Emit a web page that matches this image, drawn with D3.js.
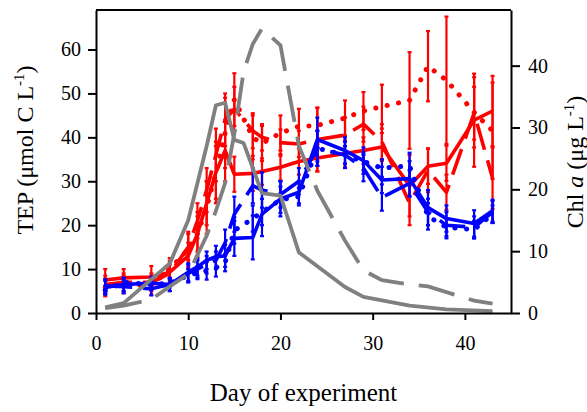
<!DOCTYPE html>
<html>
<head>
<meta charset="utf-8">
<script src="https://cdnjs.cloudflare.com/ajax/libs/d3/7.8.5/d3.min.js"></script>
<style>
  body { margin: 0; background: #fff; }
  svg text { font-family: "Liberation Serif", "Times New Roman", Times, "DejaVu Serif", serif; }
</style>
</head>
<body>
<div id="chart"></div>
<script>
// sampling days for TEP series (left axis)
var days = [1, 3, 6, 8, 10, 11, 12, 13, 14, 15, 17, 18, 20, 22, 24, 27, 29, 31, 34, 36, 38, 41, 43];

var redSolid  = [7.5, 8.0, 8.2, 9.3, 13, 18, 25, 32, 37, 31.6, 31.8, 32.2, 33.2, 34.5, 35.3, 36.3, 37, 37.8, 29, 33.4, 34.1, 43.9, 46];
var redSolidErr = [2.5, 2, 2.5, 2.5, 3, 4, 5, 6, 7, 4, 4, 3, 3, 3, 3, 3, 3, 3.2, 7, 4, 4, 10.6, 8];
var redDot    = [5.8, 6.5, 6.2, 10, 14.5, 18, 24, 32, 41, 48.6, 40, 38.6, 41, 42.5, 42.7, 44.4, 46, 47, 48.4, 56.2, 53, 45.7, 41.5];
var redDotErr = [2, 2, 2, 2.5, 4, 5, 6, 7, 8, 6, 5, 4, 4, 4, 4, 4, 4.3, 5, 11, 8, 14.5, 8, 11];
var redDash   = [6.5, 7, 7, 9, 15, 21, 28, 36, 44, 46.5, 41.5, 40, 38.8, 38.5, 39.5, 40.5, 43, 39, 25, 32.5, 27.5, 45.5, 30.7];
var redDashErr = [2, 2, 2, 2, 3, 4, 5, 6, 6, 5, 4, 3, 3, 3, 7.3, 4, 4, 4, 5, 5, 4, 6, 7];

var blueSolid = [5.8, 6.5, 6.8, 6.5, 9.3, 10.5, 12, 12.8, 13, 17, 17.2, 22.5, 26, 27.5, 39.5, 37, 34.7, 30.3, 30.6, 24, 21.5, 20.4, 23.3];
var blueSolidErr = [1.5, 1.5, 1.5, 1.5, 2, 2, 2, 2.5, 2.5, 4, 5, 5, 4, 2.5, 5, 3, 3, 3, 4, 4, 3, 3, 2.5];
var blueDot   = [5.2, 7, 6.5, 6.8, 8.5, 9.2, 9.6, 10.3, 11.5, 18.8, 21.5, 23, 25.8, 26.5, 37.5, 36, 34.5, 33, 33.5, 22, 19.5, 19, 22.5];
var blueDotErr = [1, 1, 1, 1, 1.5, 1.5, 2, 2, 2, 3, 3, 3, 3, 2, 4, 2, 2, 2, 3, 3, 2, 2, 2];
var blueDash  = [6.2, 6, 5.5, 6.5, 9, 10, 11, 12, 16, 22.5, 29, 28, 27, 30, 37.5, 36, 33, 26.3, 29.5, 23, 20, 19.5, 23];
var blueDashErr = [1.5, 1.5, 1.5, 1.5, 2, 2, 2, 2, 3, 4, 4, 4, 3, 3, 4, 3, 3, 3, 3, 3, 3, 2.5, 2.5];

// Chl a series (right axis)
var chlSolidDays = [1, 3, 8, 10, 12, 13, 14, 15, 16, 18, 20, 22, 27, 29, 34, 38, 43];
var chlSolid     = [0.9, 1.6, 8, 15, 27, 33.6, 34, 28, 27.5, 19.4, 19, 9.8, 4.2, 2.6, 1.2, 0.6, 0.3];
var chlDashDays  = [1, 3, 6, 8, 10, 12, 13, 14, 15, 16, 17, 18, 20, 22, 24, 27, 29, 31, 34, 36, 41, 43];
var chlDash      = [0.8, 1.2, 2.2, 4.3, 6.3, 12.5, 16.5, 21, 29, 39, 43.5, 46, 43.3, 27, 19.8, 11.7, 6.9, 5.3, 4.6, 4.3, 2, 1.5];

var xTicks = [0, 10, 20, 30, 40];
var tepTicks = [0, 10, 20, 30, 40, 50, 60];
var chlTicks = [0, 10, 20, 30, 40];

var serif = "'Liberation Serif', 'Times New Roman', Times, 'DejaVu Serif', serif";

var margin = {top: 10, right: 76, bottom: 99, left: 96},
    width = 587 - margin.left - margin.right,
    height = 412 - margin.top - margin.bottom;

var svg = d3.select("#chart").append("svg")
    .attr("width", 587)
    .attr("height", 412)
    .attr("font-family", serif);

var g = svg.append("g")
    .attr("transform", "translate(" + margin.left + "," + margin.top + ")");

var x = d3.scaleLinear().domain([0, 45]).range([0, width]);
var yL = d3.scaleLinear().domain([0, 69]).range([height, 0]);
var yR = d3.scaleLinear().domain([0, 49]).range([height, 0]);

function pts(dd, vals, errs) {
    return dd.map(function(d, i) { return {d: d, v: vals[i], e: errs ? errs[i] : 0}; });
}

var tepSeries = [
    {data: pts(days, redSolid, redSolidErr), color: "#ff0000", dash: null},
    {data: pts(days, redDot, redDotErr), color: "#ff0000", dash: "0.1,11.5"},
    {data: pts(days, redDash, redDashErr), color: "#ff0000", dash: "27,11"},
    {data: pts(days, blueSolid, blueSolidErr), color: "#0000ff", dash: null},
    {data: pts(days, blueDot, blueDotErr), color: "#0000ff", dash: "0.1,11.5"},
    {data: pts(days, blueDash, blueDashErr), color: "#0000ff", dash: "27,11"}
];

var lineL = d3.line().x(function(p) { return x(p.d); }).y(function(p) { return yL(p.v); });
var lineR = d3.line().x(function(p) { return x(p.d); }).y(function(p) { return yR(p.v); });

// error bars + lines for TEP
tepSeries.forEach(function(s) {
    var eb = g.append("g").attr("stroke", s.color).attr("stroke-width", 2.2);
    s.data.forEach(function(p) {
        var cx = x(p.d), y0 = yL(p.v - p.e), y1 = yL(p.v + p.e);
        eb.append("line").attr("x1", cx).attr("x2", cx).attr("y1", y0).attr("y2", y1);
        eb.append("line").attr("x1", cx - 2).attr("x2", cx + 2).attr("y1", y0).attr("y2", y0);
        eb.append("line").attr("x1", cx - 2).attr("x2", cx + 2).attr("y1", y1).attr("y2", y1);
    });
    g.append("path")
        .datum(s.data)
        .attr("fill", "none")
        .attr("stroke", s.color)
        .attr("stroke-width", s.dash && s.dash.indexOf("0.1") === 0 ? 5 : 3.6)
        .attr("stroke-linecap", s.dash && s.dash.indexOf("0.1") === 0 ? "round" : "butt")
        .attr("stroke-linejoin", "round")
        .attr("stroke-dasharray", s.dash)
        .attr("d", lineL);
});

// Chl a lines
g.append("path")
    .datum(pts(chlSolidDays, chlSolid))
    .attr("fill", "none").attr("stroke", "#808080").attr("stroke-width", 3.8)
    .attr("stroke-linejoin", "round")
    .attr("d", lineR);
g.append("path")
    .datum(pts(chlDashDays, chlDash))
    .attr("fill", "none").attr("stroke", "#808080").attr("stroke-width", 3.8)
    .attr("stroke-dasharray", "37,15")
    .attr("d", lineR);

// axes
var axB = g.append("g").attr("transform", "translate(0," + height + ")")
    .call(d3.axisBottom(x).tickValues(xTicks).tickSize(7).tickSizeOuter(0).tickPadding(16));
var axL = g.append("g")
    .call(d3.axisLeft(yL).tickValues(tepTicks).tickSize(8).tickSizeOuter(0).tickPadding(7));
var axR = g.append("g").attr("transform", "translate(" + width + ",0)")
    .call(d3.axisRight(yR).tickValues(chlTicks).tickSize(9).tickSizeOuter(0).tickPadding(8));
g.append("line").attr("x1", 0).attr("x2", width).attr("y1", 0).attr("y2", 0)
    .attr("stroke", "#000").attr("stroke-width", 2);

[axB, axL, axR].forEach(function(a) {
    a.attr("font-family", serif).attr("font-size", 20);
    a.selectAll("path, line").attr("stroke", "#000").attr("stroke-width", 2);
    a.selectAll("text").attr("fill", "#000");
});

// titles
svg.append("text")
    .attr("x", margin.left + width / 2).attr("y", 401)
    .attr("text-anchor", "middle")
    .attr("font-size", 25)
    .text("Day of experiment");

var tl = svg.append("text")
    .attr("transform", "translate(33,150) rotate(-90)")
    .attr("text-anchor", "middle")
    .attr("font-size", 24);
tl.append("tspan").text("TEP (μmol C L");
tl.append("tspan").attr("dy", -9).attr("font-size", 15).text("-1");
tl.append("tspan").attr("dy", 9).text(")");

var tr = svg.append("text")
    .attr("transform", "translate(583,162) rotate(-90)")
    .attr("text-anchor", "middle")
    .attr("font-size", 24);
tr.append("tspan").text("Chl ");
tr.append("tspan").attr("font-style", "italic").text("a");
tr.append("tspan").text(" (μg L");
tr.append("tspan").attr("dy", -9).attr("font-size", 15).text("-1");
tr.append("tspan").attr("dy", 9).text(")");
</script>
</body>
</html>
